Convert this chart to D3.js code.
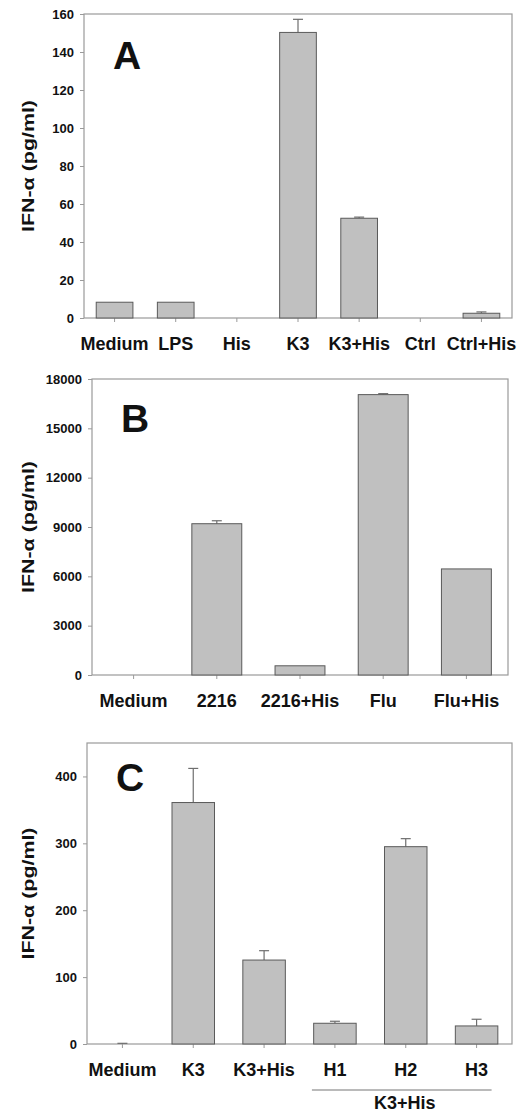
<!DOCTYPE html>
<html>
<head>
<meta charset="utf-8">
<script src="https://cdn.jsdelivr.net/npm/d3@7"></script>
<style>
  html, body { margin: 0; padding: 0; background: #fff; }
  svg { display: block; }
  text { font-family: "Liberation Sans", Arial, Helvetica, sans-serif; font-weight: bold; fill: #111; }
</style>
</head>
<body>
<svg id="chart" width="528" height="1113"></svg>
<script>
// ---- Panel A data ----
const catsA = ["Medium", "LPS", "His", "K3", "K3+His", "Ctrl", "Ctrl+His"];
const valsA = [8.3, 8.3, 0, 150.3, 52.5, 0, 2.5];
const errA  = [null, null, null, 157.2, 53.1, null, 3.2];
const ticksA = [0, 20, 40, 60, 80, 100, 120, 140, 160];

// ---- Panel B data ----
const catsB = ["Medium", "2216", "2216+His", "Flu", "Flu+His"];
const valsB = [0, 9200, 560, 17050, 6450];
const errB  = [null, 9380, null, 17110, null];
const ticksB = [0, 3000, 6000, 9000, 12000, 15000, 18000];

// ---- Panel C data ----
const catsC = ["Medium", "K3", "K3+His", "H1", "H2", "H3"];
const valsC = [0, 361, 125.5, 31, 295, 27];
const errC  = [1, 412, 139.5, 34, 307, 37];
const ticksC = [0, 100, 200, 300, 400];
const groupC = ["H1", "H2", "H3"];
const groupLabelC = "K3+His";

const svg = d3.select("#chart");
const frameColor = "#9a9a9a";

function panel(cfg) {
  const { cats, vals, errs, ticks, yMax, x0, x1, y0, y1, letter, letterBase } = cfg;
  const g = svg.append("g");
  const x = d3.scaleBand().domain(cats).range([x0, x1]).paddingInner(0.4).paddingOuter(0.2);
  const y = d3.scaleLinear().domain([0, yMax]).range([y1, y0]);

  g.append("rect").attr("x", x0).attr("y", y0).attr("width", x1 - x0).attr("height", y1 - y0)
    .attr("fill", "none").attr("stroke", frameColor).attr("stroke-width", 1.2);

  const ya = g.append("g").attr("transform", `translate(${x0},0)`)
    .call(d3.axisLeft(y).tickValues(ticks).tickSize(4).tickPadding(6).tickFormat(d3.format("d")));
  ya.select(".domain").remove();
  ya.selectAll("line").attr("stroke", frameColor);
  ya.selectAll("text").style("font-size", "13px").style("font-family", "'Liberation Sans', Arial, sans-serif").style("font-weight", "bold").attr("fill", "#111");

  const xa = g.append("g").attr("transform", `translate(0,${y1})`)
    .call(d3.axisBottom(x).tickSize(4).tickPadding(15));
  xa.select(".domain").remove();
  xa.selectAll("line").attr("stroke", frameColor);
  xa.selectAll("text").style("font-size", "18px").style("font-family", "'Liberation Sans', Arial, sans-serif").style("font-weight", "bold").attr("fill", "#111");

  const data = cats.map((c, i) => ({ c, v: vals[i], e: errs[i] }));
  const capW = 10;
  const eb = g.append("g").attr("stroke", "#6e6e6e").attr("stroke-width", 1.2);
  data.filter(d => d.e != null).forEach(d => {
    const cx = x(d.c) + x.bandwidth() / 2;
    eb.append("line").attr("x1", cx).attr("x2", cx).attr("y1", y(d.v)).attr("y2", y(d.e));
    eb.append("line").attr("x1", cx - capW / 2).attr("x2", cx + capW / 2).attr("y1", y(d.e)).attr("y2", y(d.e));
  });

  g.append("g").selectAll("rect").data(data.filter(d => d.v > 0)).join("rect")
    .attr("x", d => x(d.c)).attr("width", x.bandwidth())
    .attr("y", d => y(d.v)).attr("height", d => y(0) - y(d.v))
    .attr("fill", "#c0c0c0").attr("stroke", "#5a5a5a").attr("stroke-width", 1);

  g.append("text").attr("x", x0 + 29).attr("y", y0 + letterBase)
    .style("font-size", "39px").text(letter);

  const cy = (y0 + y1) / 2;
  g.append("text").attr("transform", `translate(34,${cy}) rotate(-90)`)
    .attr("text-anchor", "middle").style("font-size", "17px")
    .attr("textLength", 132).attr("lengthAdjust", "spacingAndGlyphs")
    .text("IFN-α (pg/ml)");

  return { g, x, y };
}

panel({ cats: catsA, vals: valsA, errs: errA, ticks: ticksA, yMax: 160,
        x0: 84, x1: 512, y0: 14, y1: 318, letter: "A", letterBase: 55 });
panel({ cats: catsB, vals: valsB, errs: errB, ticks: ticksB, yMax: 18000,
        x0: 92, x1: 508, y0: 379, y1: 675, letter: "B", letterBase: 53 });
const pc = panel({ cats: catsC, vals: valsC, errs: errC, ticks: ticksC, yMax: 450,
        x0: 87, x1: 512, y0: 743, y1: 1044, letter: "C", letterBase: 48 });

// group bracket under H1..H3
const half = pc.x.bandwidth() / 2;
const gx0 = pc.x(groupC[0]) + half - 23;
const gx1 = pc.x(groupC[groupC.length - 1]) + half + 15;
svg.append("line").attr("x1", gx0).attr("x2", gx1).attr("y1", 1090).attr("y2", 1090)
  .attr("stroke", "#777").attr("stroke-width", 1.2);
svg.append("text").attr("x", (gx0 + gx1) / 2 + 3).attr("y", 1109)
  .attr("text-anchor", "middle").style("font-size", "18px").text(groupLabelC);
</script>
</body>
</html>
